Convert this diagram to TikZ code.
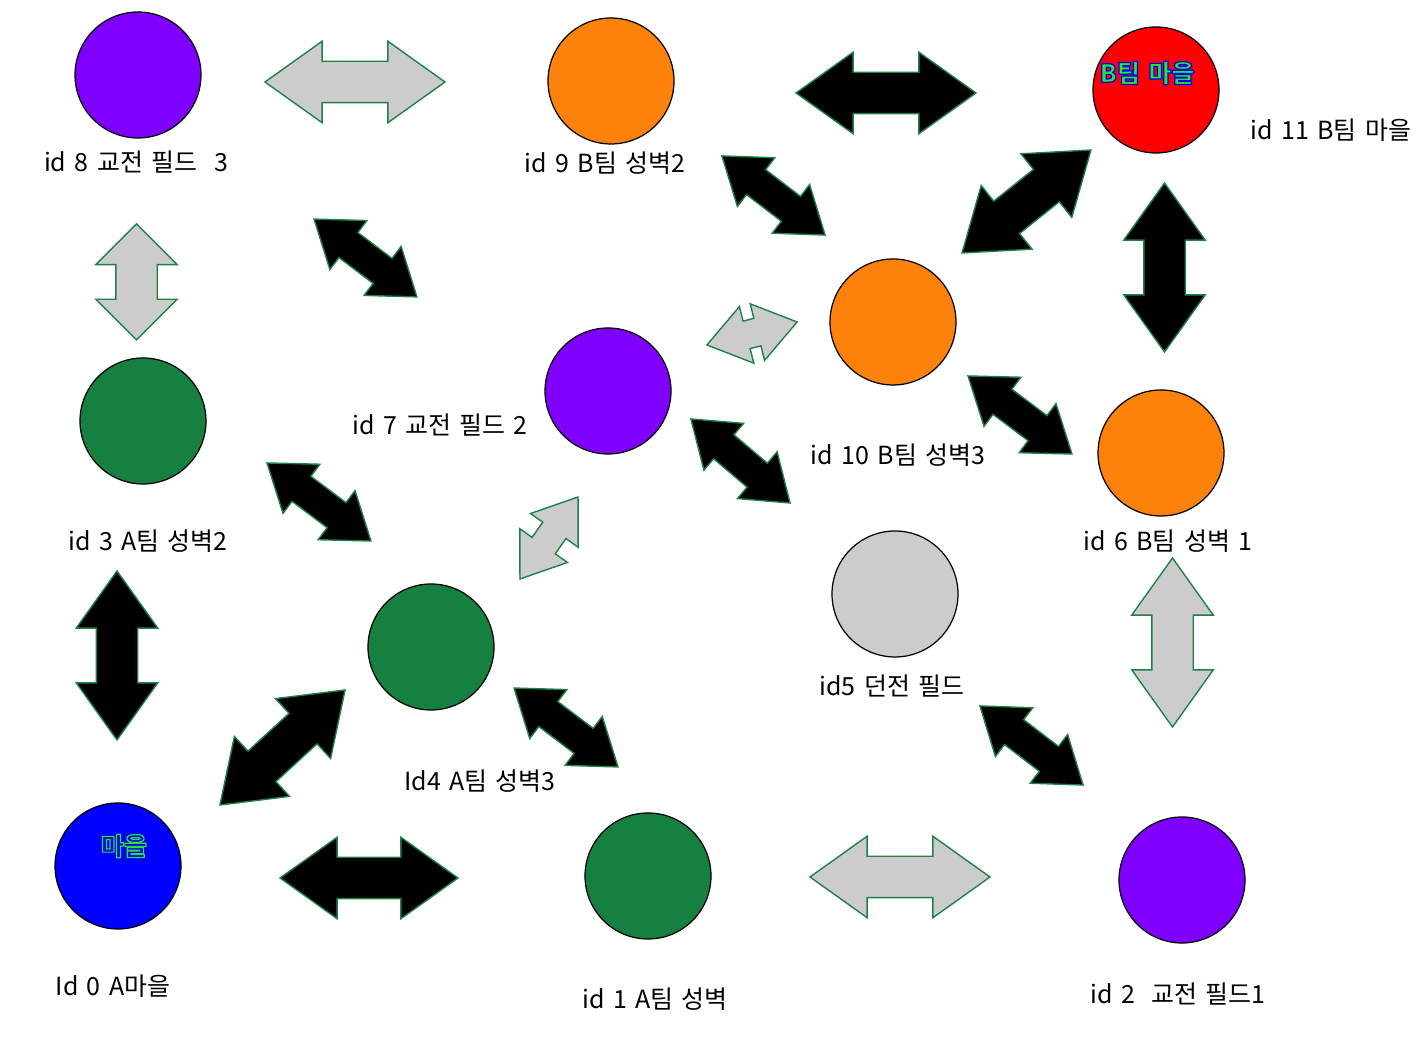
\documentclass[tikz,border=0pt]{standalone}
\usepackage{fontspec}
\setmainfont{Noto Sans CJK KR}[WordSpace=1.5]
\usetikzlibrary{shapes.arrows}

\definecolor{fieldpurple}{RGB}{127,0,255}
\definecolor{wallorange}{RGB}{252,130,12}
\definecolor{wallgreen}{RGB}{21,128,64}
\definecolor{townred}{RGB}{255,0,0}
\definecolor{townblue}{RGB}{0,0,255}
\definecolor{dungeongray}{RGB}{204,204,204}
\definecolor{edgegreen}{RGB}{30,130,70}
\definecolor{signgreen}{RGB}{40,230,40}
% outlined text: fill colour from \textcolor, stroke colour given as pdf rgb
\newcommand\signtext[2]{\special{pdf:literal direct 2 Tr #1 RG 0.7 w}#2\special{pdf:literal direct 0 Tr}}

\begin{document}
\begin{tikzpicture}[
      every node/.style={font=\fontsize{14.2pt}{16pt}\selectfont},
      place/.style={circle,draw=black,line width=0.7pt,minimum size=2.52cm,inner sep=0pt},
      sign/.style={font=\fontsize{14.2pt}{16pt}\selectfont\bfseries},
      link/.style={double arrow,draw=edgegreen,line width=0.8pt,inner xsep=0pt,inner ysep=0.4cm,
        double arrow head extend=0.4cm,double arrow tip angle=71},
      smalllink/.style={link,inner ysep=0.3cm,double arrow head extend=0.3cm},
      tinylink/.style={link,inner ysep=0.27cm,double arrow head extend=0.3cm}
    ]
      \useasboundingbox (0,0) rectangle (28.42,21.14);
      % places
      \node[place,fill=fieldpurple] (id8) at (2.76,19.64) {};
      \node[place,fill=wallorange] (id9) at (12.22,19.52) {};
      \node[place,fill=townred] (id11) at (23.12,19.34) {};
      \node[place,fill=wallorange] (id10) at (17.86,14.70) {};
      \node[place,fill=fieldpurple] (id7) at (12.16,13.32) {};
      \node[place,fill=wallgreen] (id3) at (2.86,12.72) {};
      \node[place,fill=wallorange] (id6) at (23.22,12.08) {};
      \node[place,fill=dungeongray] (id5) at (17.90,9.26) {};
      \node[place,fill=wallgreen] (id4) at (8.62,8.20) {};
      \node[place,fill=townblue] (id0) at (2.36,3.82) {};
      \node[place,fill=wallgreen] (id1) at (12.96,3.62) {};
      \node[place,fill=fieldpurple] (id2) at (23.64,3.54) {};
      \node[sign,xshift=-0.18cm,yshift=0.34cm] (id11sign) at (id11) {\textcolor{signgreen}{\signtext{0 0 1}{B팀 마을}}};
      \node[sign,xshift=0.12cm,yshift=0.40cm] (id0sign) at (id0) {\textcolor{townblue}{\signtext{0.16 0.9 0.16}{마을}}};
      % labels
      \node (id8text) at (2.72,17.90) {id 8 교전 필드\ \ 3};
      \node (id9text) at (12.10,17.88) {id 9 B팀 성벽2};
      \node (id11text) at (26.62,18.54) {id 11 B팀 마을};
      \node (id7text) at (8.80,12.64) {id 7 교전 필드 2};
      \node (id10text) at (17.96,12.04) {id 10 B팀 성벽3};
      \node (id3text) at (2.96,10.32) {id 3 A팀 성벽2};
      \node (id6text) at (23.36,10.32) {id 6 B팀 성벽 1};
      \node (id5text) at (17.84,7.42) {id5 던전 필드};
      \node (id4text) at (9.60,5.52) {Id4 A팀 성벽3};
      \node (id0text) at (2.26,1.42) {Id 0 A마을};
      \node (id1text) at (13.10,1.16) {id 1 A팀 성벽};
      \node (id2text) at (23.56,1.26) {id 2\ \ 교전 필드1};
      % links
      \node[link,fill=dungeongray,minimum height=3.6cm] (a8-9) at (7.10,19.50) {};
      \node[link,fill=black,minimum height=3.6cm] (a9-11) at (17.72,19.28) {};
      \node[link,fill=black,minimum height=3.56cm] (a0-1) at (7.38,3.58) {};
      \node[link,fill=dungeongray,minimum height=3.6cm] (a1-2) at (18.00,3.60) {};
      \node[link,fill=dungeongray,rotate=90,minimum height=2.32cm,double arrow tip angle=90] (a8-3) at (2.73,15.50) {};
      \node[link,fill=black,rotate=90,minimum height=3.38cm] (a11-6) at (23.29,15.79) {};
      \node[link,fill=black,rotate=90,minimum height=3.38cm] (a3-0) at (2.34,8.03) {};
      \node[link,fill=dungeongray,rotate=90,minimum height=3.38cm] (a6-2) at (23.45,8.29) {};
      \node[link,fill=black,rotate=38.6,minimum height=3.30cm] (a10-11) at (20.53,17.11) {};
      \node[link,fill=black,rotate=42.6,minimum height=3.40cm] (a0-4) at (5.65,6.19) {};
      \node[smalllink,fill=black,rotate=-37.1,minimum height=2.58cm] (a8-7) at (7.31,15.98) {};
      \node[smalllink,fill=black,rotate=-37.5,minimum height=2.60cm] (a9-10) at (15.47,17.23) {};
      \node[smalllink,fill=black,rotate=-36.9,minimum height=2.60cm] (a10-6) at (20.40,12.84) {};
      \node[smalllink,fill=black,rotate=-40.3,minimum height=2.60cm] (a7-5) at (14.81,11.92) {};
      \node[smalllink,fill=black,rotate=-36.9,minimum height=2.60cm] (a3-4) at (6.38,11.10) {};
      \node[smalllink,fill=black,rotate=-37.2,minimum height=2.61cm] (a4-1) at (11.32,6.59) {};
      \node[smalllink,fill=black,rotate=-37.5,minimum height=2.60cm] (a5-2) at (20.63,6.23) {};
      \node[tinylink,fill=dungeongray,rotate=14.3,minimum height=1.86cm] (a7-10) at (15.04,14.47) {};
      \node[tinylink,fill=dungeongray,rotate=54.7,minimum height=2.01cm] (a4-7) at (10.98,10.38) {};
    \end{tikzpicture}
\end{document}
